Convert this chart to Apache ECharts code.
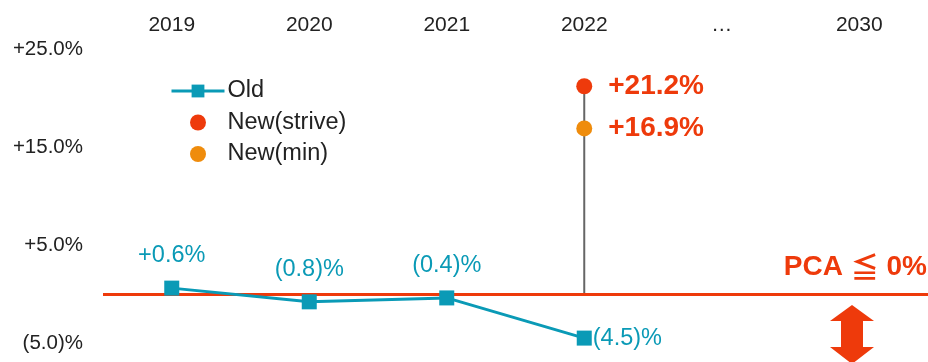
<!DOCTYPE html>
<html><head><meta charset="utf-8">
<script src="https://cdn.jsdelivr.net/npm/echarts@6/dist/echarts.min.js"></script>
<style>html,body{margin:0;padding:0;background:#fff}#c{width:928px;height:362px}</style>
</head><body><div id="c"></div>
<script>
const categories = ['2019', '2020', '2021', '2022', '…', '2030'];
const oldValues = [0.6, -0.8, -0.4, -4.5, null, null];
const striveValues = [null, null, null, 21.2, null, null];
const minValues = [null, null, null, 16.9, null, null];
const stemCategory = '2022';
const stemTop = 21.2;
const targetLineValue = 0;
const targetLabel = '{a|PCA} {b|≦} {a|0%}';
const yTicks = [-5, 5, 15, 25];

const FONT = '"Liberation Sans", Arial, sans-serif';
const TEAL = '#0A9AB6';
const RED = '#EE3A0B';
const ORANGE = '#EF8C0C';

function pct(v) {
  if (v > 0) return '+' + v.toFixed(1) + '%';
  if (v < 0) return '(' + Math.abs(v).toFixed(1) + ')%';
  return '0.0%';
}

const chart = echarts.init(document.getElementById('c'), null, {renderer: 'canvas'});
chart.setOption({
  animation: false,
  backgroundColor: '#fff',
  grid: {left: 103, right: 0, top: 49, bottom: 19, containLabel: false},
  legend: {
    left: 165, top: 74, orient: 'vertical',
    itemWidth: 53, itemHeight: 16, itemGap: 7.5,
    lineStyle: {width: 3},
    textStyle: {fontFamily: FONT, fontSize: 23.5, color: '#222', padding: [0, 0, 0, -2]},
    data: ['Old', 'New(strive)', 'New(min)']
  },
  xAxis: {
    type: 'category', position: 'top', data: categories,
    axisLine: {show: false}, axisTick: {show: false}, splitLine: {show: false},
    axisLabel: {fontFamily: FONT, fontSize: 21, color: '#222', margin: 13}
  },
  yAxis: {
    type: 'value', min: yTicks[0], max: yTicks[yTicks.length - 1], interval: 10,
    axisLine: {show: false}, axisTick: {show: false}, splitLine: {show: false},
    axisLabel: {fontFamily: FONT, fontSize: 20.5, color: '#222', margin: 20, formatter: pct}
  },
  graphic: [{
    type: 'polygon', z: 10,
    shape: {points: [[852, 305], [874, 321], [863, 321], [863, 347], [874, 347], [852, 364], [830, 347], [841, 347], [841, 321], [830, 321]]},
    style: {fill: RED}
  }],
  series: [
    {
      name: 'stem', type: 'line', z: 1, silent: true, symbol: 'none',
      data: [[stemCategory, stemTop], [stemCategory, targetLineValue]],
      lineStyle: {color: '#666', width: 2},
      markLine: {
        silent: true, symbol: 'none',
        lineStyle: {color: RED, width: 3, type: 'solid'},
        label: {show: true, position: 'insideEndTop', formatter: targetLabel, distance: [1, 13],
          fontFamily: FONT, fontSize: 28, fontWeight: 'bold', color: RED,
          rich: {
            a: {fontFamily: FONT, fontSize: 28, fontWeight: 'bold', color: RED},
            b: {fontFamily: '"Noto Sans CJK JP"', fontSize: 28, fontWeight: 'bold', color: RED}
          }},
        data: [{yAxis: targetLineValue}]
      }
    },
    {
      name: 'Old', type: 'line', z: 5,
      symbol: 'rect', symbolSize: 15,
      itemStyle: {color: TEAL}, lineStyle: {color: TEAL, width: 3},
      label: {
        show: true, fontFamily: FONT, fontSize: 23.5, color: TEAL,
        position: 'top', distance: 13, formatter: p => pct(p.value)
      },
      data: oldValues.map((v, i) => i === 3 ? {value: v, label: {position: 'right', distance: 1}} : v)
    },
    {
      name: 'New(strive)', type: 'scatter', z: 6, data: striveValues,
      symbol: 'circle', symbolSize: 16, itemStyle: {color: RED, opacity: 1},
      label: {show: true, position: 'right', distance: 16, formatter: p => pct(p.value),
        fontFamily: FONT, fontSize: 28, fontWeight: 'bold', color: RED}
    },
    {
      name: 'New(min)', type: 'scatter', z: 6, data: minValues,
      symbol: 'circle', symbolSize: 16, itemStyle: {color: ORANGE, opacity: 1},
      label: {show: true, position: 'right', distance: 16, formatter: p => pct(p.value),
        fontFamily: FONT, fontSize: 28, fontWeight: 'bold', color: RED}
    }
  ]
});
</script>
</body></html>
